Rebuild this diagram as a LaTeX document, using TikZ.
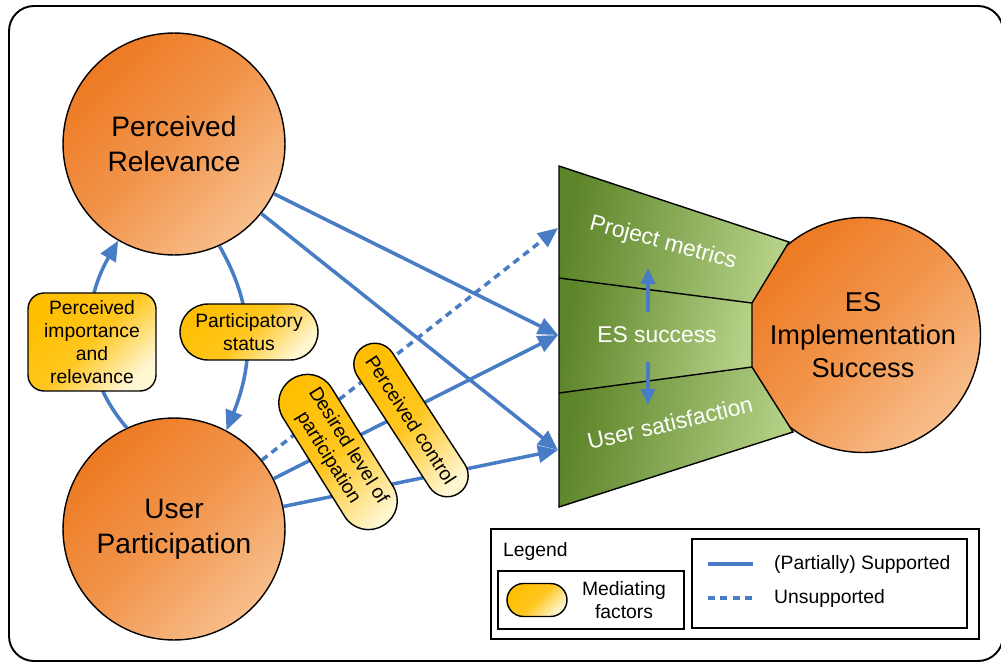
\documentclass[tikz,border=0pt]{standalone}
\usepackage{fontspec}
\setmainfont{Liberation Sans}
\usetikzlibrary{arrows.meta, positioning}

\definecolor{orangedark}{RGB}{237,122,34}
\definecolor{orangelight}{RGB}{248,190,140}
\definecolor{yellowdark}{RGB}{255,190,0}
\definecolor{yellowlight}{RGB}{255,246,210}
\definecolor{greendark}{RGB}{92,132,40}
\definecolor{greenlight}{RGB}{182,210,136}
\definecolor{linkblue}{RGB}{72,124,196}

\begin{document}
\begin{tikzpicture}[x=0.02cm, y=0.02cm,
        construct/.style={circle, draw=black, thick, top color=orangedark, bottom color=orangelight, middle color=orangedark!60!orangelight, shading angle=45, minimum size=4.44cm, inner sep=0pt, align=center, font=\fontsize{16}{19.8}\selectfont},
        mediator/.style={draw=black, thick, top color=yellowdark, bottom color=yellowlight, middle color=yellowdark!85!yellowlight, shading angle=45, inner sep=0pt, align=center, font=\fontsize{11}{13.2}\selectfont},
        bandtext/.style={text=white, font=\fontsize{13}{15}\selectfont},
        link/.style={draw=linkblue, line width=2pt, -{Triangle[length=4mm, width=3.4mm]}},
        unsupported/.style={dash pattern=on 4pt off 3pt},
        smalllink/.style={draw=linkblue, line width=2.2pt, -{Triangle[length=3.2mm, width=2.8mm]}}
    ]
    \useasboundingbox (0,0) rectangle (1001,664);
    \draw[line width=1.1pt, rounded corners=0.5cm] (9,3) rectangle (1003,658);

    % Constructs
    \node[construct] (pr) at (174,520) {Perceived\\Relevance};
    \node[construct] (up) at (174,135) {User\\Participation};
    \node[construct, minimum size=4.7cm, font=\fontsize{15.5}{18.7}\selectfont] (es) at (863,329) {ES\\Implementation\\Success};

    % ES success dimensions
    \shade[left color=greendark, right color=greenlight, shading angle=80] (559,498) -- (789,422) -- (752,361) -- (559,386) -- cycle;
    \shade[left color=greendark, right color=greenlight, shading angle=80] (559,386) -- (752,361) -- (752,297) -- (559,271) -- cycle;
    \shade[left color=greendark, right color=greenlight, shading angle=80] (559,271) -- (752,297) -- (793,232) -- (559,157) -- cycle;
    \draw[thick] (559,498) -- (789,422) -- (752,361) -- (752,297) -- (793,232) -- (559,157) -- cycle;
    \draw[thick] (559,386) -- (752,361);
    \draw[thick] (559,271) -- (752,297);
    \node[bandtext, rotate=-15] (pmtext) at (663,421) {Project metrics};
    \node[bandtext] (esstext) at (657,329) {ES success};
    \node[bandtext, rotate=13] (ustext) at (670,241) {User satisfaction};
    \coordinate (pm) at (558,436);
    \coordinate (ess) at (558,329);
    \coordinate (usat) at (558,214);
    \coordinate (uptail) at (648,352);
    \coordinate (uphead) at (648,396);
    \coordinate (downtail) at (648,302);
    \coordinate (downhead) at (648,259);
    \draw[smalllink] (uptail) -- (uphead);
    \draw[smalllink] (downtail) -- (downhead);

    % Relations
    \draw[link] (pr) -- (ess);
    \draw[link] (pr) -- (usat);
    \draw[link, unsupported] (up) -- (pm);
    \draw[link] (up) -- (ess);
    \draw[link] (up) -- (usat);
    \draw[link] (up.115) to[out=131, in=240] (pr.240);
    \draw[link] (pr.-66) to[out=-60, in=68] (up.62);

    % Mediating factors
    \node[mediator, rounded corners=0.32cm, minimum width=2.56cm, minimum height=1.96cm] (importance) at (92,322) {Perceived\\importance\\and\\relevance};
    \node[mediator, rounded corners=0.56cm, minimum width=2.76cm, minimum height=1.12cm] (status) at (249,332) {Participatory\\status};
    \node[mediator, rounded corners=0.56cm, minimum width=3.45cm, minimum height=1.14cm, rotate=-58] (desired) at (338,212) {Desired level of\\participation};
    \node[mediator, rounded corners=0.42cm, minimum width=3.5cm, minimum height=0.84cm, rotate=-57] (control) at (411,244) {Perceived control};

    % Legend
    \draw[thick] (491,25) rectangle (979,135);
    \node[anchor=west, font=\fontsize{11}{13}\selectfont] (legendtitle) at (497,113) {Legend};
    \draw[thick] (498,35) rectangle (684,93);
    \node[mediator, rounded corners=0.33cm, minimum width=1.2cm, minimum height=0.66cm] (legendpill) at (537,64) {};
    \node[font=\fontsize{11}{13}\selectfont, align=center] (legendmed) at (624,64) {Mediating\\factors};
    \draw[thick] (692,36) rectangle (967,125);
    \draw[draw=linkblue, line width=2pt] (708,100) -- (753,100);
    \draw[draw=linkblue, line width=2pt, unsupported] (708,66) -- (753,66);
    \node[anchor=west, font=\fontsize{11}{13}\selectfont] (legendsup) at (768,100) {(Partially) Supported};
    \node[anchor=west, font=\fontsize{11}{13}\selectfont] (legendunsup) at (768,66) {Unsupported};
\end{tikzpicture}
\end{document}
